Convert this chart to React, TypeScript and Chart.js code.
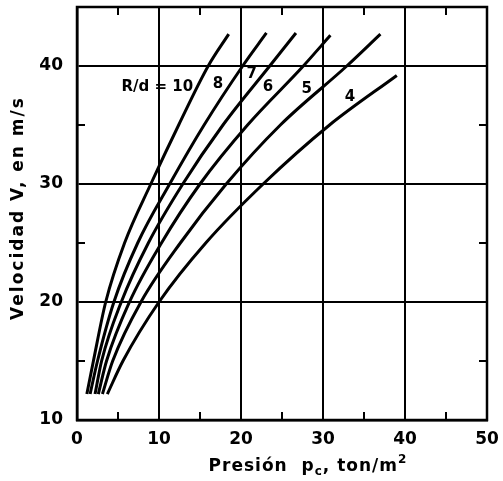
import React, { useEffect, useRef } from "react";
import { Chart, registerables } from "chart.js";

Chart.register(...registerables);

// Axis ticks
const xTicks = [0, 10, 20, 30, 40, 50];
const yTicks = [10, 20, 30, 40];
const xMinor = [5, 15, 25, 35, 45];
const yMinor = [15, 25, 35];

// Curves: presión p_c (ton/m²) vs velocidad V (m/s)
const rd10P = [1.2, 2.0, 3.5, 5.8, 9.0, 12.4, 16.0, 18.5];
const rd10V = [12.2, 15, 20, 25, 30, 35, 40, 42.7];
const rd8P = [1.6, 2.5, 4.5, 7.4, 11.3, 15.5, 20.2, 23.1];
const rd8V = [12.2, 15, 20, 25, 30, 35, 40, 42.8];
const rd7P = [2.2, 3.0, 5.4, 8.7, 12.9, 17.8, 23.5, 26.7];
const rd7V = [12.2, 15, 20, 25, 30, 35, 40, 42.8];
const rd6P = [2.6, 3.6, 6.4, 10.3, 15.0, 20.8, 27.6, 30.9];
const rd6V = [12.2, 15, 20, 25, 30, 35, 40, 42.6];
const rd5P = [3.1, 4.35, 7.8, 12.6, 18.2, 24.8, 32.9, 37.0];
const rd5V = [12.2, 15, 20, 25, 30, 35, 40, 42.7];
const rd4P = [3.7, 5.6, 10.0, 15.7, 22.7, 30.8, 39.0];
const rd4V = [12.2, 15, 20, 25, 30, 35, 39.2];

const curveLabels = ["R/d = 10", "8", "7", "6", "5", "4"];
const curveLabelP = [9.8, 17.2, 21.3, 23.3, 28.0, 33.3];
const curveLabelV = [38.2, 38.5, 39.3, 38.2, 38.0, 37.4];

const yTitle = "Velocidad V, en m/s";
const xTitleParts = ["Presión  p", "c", ", ton/m", "2"];

const FONT = "'DejaVu Sans', 'Liberation Sans', sans-serif";

const toPts = (p: number[], v: number[]) => p.map((x, i) => ({ x, y: v[i] }));

const framePlugin = {
  id: "frame",
  afterDraw(chart: any) {
    const { ctx, chartArea: a, scales } = chart;
    const xs = scales.x;
    const ys = scales.y;
    ctx.save();
    ctx.strokeStyle = "#000";
    ctx.lineWidth = 2.5;
    ctx.strokeRect(a.left, a.top, a.right - a.left, a.bottom - a.top);
    // inward minor ticks
    ctx.lineWidth = 2;
    const tl = 8;
    ctx.beginPath();
    xMinor.forEach((v) => {
      const px = xs.getPixelForValue(v);
      ctx.moveTo(px, a.bottom);
      ctx.lineTo(px, a.bottom - tl);
      ctx.moveTo(px, a.top);
      ctx.lineTo(px, a.top + tl);
    });
    yMinor.forEach((v) => {
      const py = ys.getPixelForValue(v);
      ctx.moveTo(a.left, py);
      ctx.lineTo(a.left + tl, py);
      ctx.moveTo(a.right, py);
      ctx.lineTo(a.right - tl, py);
    });
    ctx.stroke();

    // curve labels
    ctx.fillStyle = "#000";
    ctx.font = `bold 15px ${FONT}`;
    ctx.textAlign = "center";
    ctx.textBaseline = "middle";
    curveLabels.forEach((t, i) => {
      ctx.fillText(t, xs.getPixelForValue(curveLabelP[i]), ys.getPixelForValue(curveLabelV[i]));
    });

    // y title
    ctx.save();
    ctx.font = `bold 17px ${FONT}`;
    (ctx as any).letterSpacing = "2px";
    ctx.translate(19, 208);
    ctx.rotate(-Math.PI / 2);
    ctx.textAlign = "center";
    ctx.textBaseline = "middle";
    ctx.fillText(yTitle, 0, 0);
    ctx.restore();

    // x title with subscript / superscript
    const big = `bold 17px ${FONT}`;
    const small = `bold 12px ${FONT}`;
    (ctx as any).letterSpacing = "1px";
    ctx.textAlign = "left";
    ctx.textBaseline = "alphabetic";
    const widths = xTitleParts.map((t, i) => {
      ctx.font = i % 2 === 0 ? big : small;
      return ctx.measureText(t).width;
    });
    const total = widths.reduce((s, w) => s + w, 0);
    let x = (a.left + a.right) / 2 + 26 - total / 2;
    const base = 471;
    xTitleParts.forEach((t, i) => {
      ctx.font = i % 2 === 0 ? big : small;
      const dy = i === 1 ? 4 : i === 3 ? -8 : 0;
      ctx.fillText(t, x, base + dy);
      x += widths[i];
    });
    ctx.restore();
  },
};

export default function App() {
  const ref = useRef<HTMLCanvasElement | null>(null);
  useEffect(() => {
    if (!ref.current) return;
    const mk = (p: number[], v: number[], label: string) => ({
      label,
      data: toPts(p, v),
      borderColor: "#000",
      borderWidth: 3,
      pointRadius: 0,
      fill: false,
      cubicInterpolationMode: "monotone" as const,
    });
    const chart = new Chart(ref.current, {
      type: "line",
      data: {
        datasets: [
          mk(rd10P, rd10V, "R/d=10"),
          mk(rd8P, rd8V, "R/d=8"),
          mk(rd7P, rd7V, "R/d=7"),
          mk(rd6P, rd6V, "R/d=6"),
          mk(rd5P, rd5V, "R/d=5"),
          mk(rd4P, rd4V, "R/d=4"),
        ],
      },
      options: {
        animation: false,
        responsive: false,
        devicePixelRatio: 1,
        layout: { padding: { left: 0, right: 16, top: 7, bottom: 0 } },
        plugins: { legend: { display: false }, tooltip: { enabled: false } },
        scales: {
          x: {
            type: "linear",
            min: 0,
            max: 50,
            afterBuildTicks: (s: any) => {
              s.ticks = xTicks.map((v) => ({ value: v }));
            },
            afterFit: (s: any) => {
              s.height = 61;
              s.paddingLeft = 0;
              s.paddingRight = 0;
              s.paddingTop = 0;
              s.paddingBottom = 0;
            },
            grid: { color: "#000", lineWidth: 2, drawTicks: false },
            border: { color: "#000", width: 2.5 },
            ticks: {
              color: "#000",
              padding: 9,
              font: { family: FONT, size: 17, weight: "bold" },
            },
          },
          y: {
            type: "linear",
            min: 10,
            max: 45,
            afterBuildTicks: (s: any) => {
              s.ticks = yTicks.map((v) => ({ value: v }));
            },
            afterFit: (s: any) => {
              s.width = 77;
              s.paddingLeft = 0;
              s.paddingRight = 0;
              s.paddingTop = 0;
              s.paddingBottom = 0;
            },
            grid: { color: "#000", lineWidth: 2, drawTicks: false },
            border: { color: "#000", width: 2.5 },
            ticks: {
              color: "#000",
              padding: 14,
              font: { family: FONT, size: 17, weight: "bold" },
            },
          },
        },
      },
      plugins: [framePlugin],
    });
    return () => chart.destroy();
  }, []);
  return (
    <div style={{ position: "absolute", left: 0, top: 0, width: 503, height: 481, background: "#fff" }}>
      <canvas ref={ref} width={503} height={481} />
    </div>
  );
}
